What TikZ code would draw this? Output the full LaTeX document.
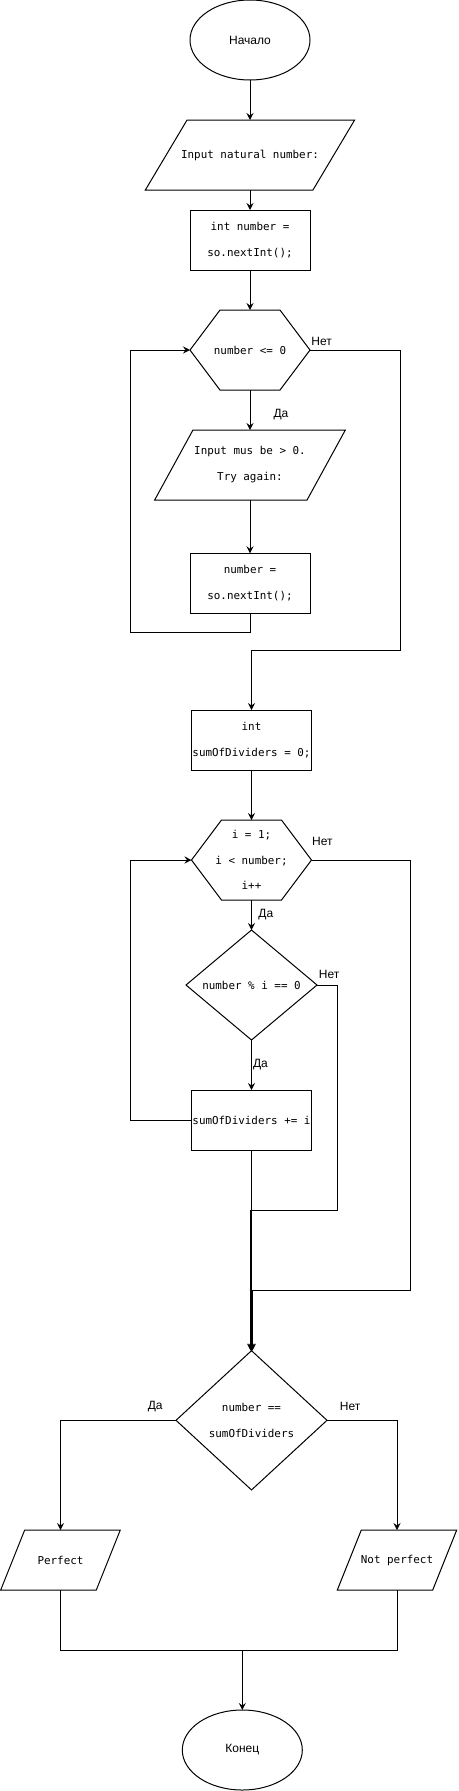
\documentclass[tikz,border=0pt]{standalone}
\usepackage{fontspec}
\setmainfont{Liberation Sans}
\newfontfamily\monofont{DejaVu Sans Mono}
\usetikzlibrary{shapes.geometric,arrows.meta,calc}

\tikzset{
  base/.style={draw=none, inner sep=0pt, outer sep=0pt, align=center,
    font=\monofont\fontsize{10.9}{26}\selectfont},
  term/.style={ellipse, draw, line width=1pt, minimum width=120pt, minimum height=80pt,
    inner sep=0pt, outer sep=0pt, font=\fontsize{12}{14}\selectfont},
  proc/.style={base, draw, line width=1pt, minimum width=120pt, minimum height=60pt},
  shapeline/.style={draw, line width=1pt, line join=miter},
  lbl/.style={font=\fontsize{12}{14}\selectfont, inner sep=0pt, text=black},
  arr/.style={line width=1pt, -{Stealth[length=7pt,width=7pt,inset=2.5pt]}},
  plain/.style={line width=1pt},
}
\newcommand\drawio[2]{\draw[shapeline] ([xshift=#2]#1.north west) -- (#1.north east) -- ([xshift=-#2]#1.south east) -- (#1.south west) -- cycle;}
\newcommand\drawhex[2]{\draw[shapeline] (#1.west) -- ([xshift=#2]#1.north west) -- ([xshift=-#2]#1.north east) -- (#1.east) -- ([xshift=-#2]#1.south east) -- ([xshift=#2]#1.south west) -- cycle;}
\newcommand\drawdec[1]{\draw[shapeline] (#1.north) -- (#1.east) -- (#1.south) -- (#1.west) -- cycle;}

\begin{document}
\begin{tikzpicture}[x=1pt,y=-1pt]
\path[fill=white,use as bounding box] (0,0) rectangle (458,1791);

% nodes
\node[term] (start) at (250,40) {Начало};
\node[base, minimum width=209.3pt, minimum height=70pt] (in1) at (250,155) {Input natural number:};
\drawio{in1}{41.7pt}
\node[proc] (r1) at (250,240) {int number =\\so.nextInt();};
\node[base, minimum width=120pt, minimum height=80pt] (h1) at (250,350) {number <= 0};
\drawhex{h1}{30pt}
\node[base, minimum width=190.7pt, minimum height=70pt] (in2) at (250,465) {Input mus be > 0.\\Try again:};
\drawio{in2}{38.3pt}
\node[proc] (r2) at (250,583.3) {number =\\so.nextInt();};

\node[proc] (r3) at (251.5,740) {int\\sumOfDividers = 0;};
\node[base, minimum width=120pt, minimum height=80pt, font=\monofont\fontsize{10.9}{25.5}\selectfont] (h2) at (251.5,860) {i = 1;\\i < number;\\i++};
\drawhex{h2}{30pt}
\node[base, minimum width=131pt, minimum height=110pt] (d1) at (251.5,985) {number \% i == 0};
\drawdec{d1}
\node[proc] (r4) at (251.5,1120) {sumOfDividers += i};
\node[base, minimum width=151pt, minimum height=139.3pt] (d2) at (251.5,1420.3) {number ==\\sumOfDividers};
\drawdec{d2}

\node[base, minimum width=119.6pt, minimum height=60pt] (p1) at (60.5,1560) {Perfect};
\drawio{p1}{24pt}
\node[base, minimum width=119.4pt, minimum height=60pt] (p2) at (397,1560) {Not perfect};
\drawio{p2}{24pt}
\node[term] (end) at (242.3,1750) {Конец};

% connectors
\draw[arr] (start.south) -- (in1.north);
\draw[arr] (in1.south) -- (r1.north);
\draw[arr] (r1.south) -- (h1.north);
\draw[arr] (h1.south) -- node[lbl, pos=0.625, xshift=31pt] {Да} (in2.north);
\draw[arr] (in2.south) -- (r2.north);
\draw[arr] (r2.south) |- (130.7,632.7) |- (h1.west);
\draw[arr] (h1.east) -- node[lbl, pos=0.13, yshift=8.5pt] {Нет} (400,350) |- (251.5,650) -- (r3.north);

\draw[arr] (r3.south) -- (h2.north);
\draw[arr] (h2.south) -- node[lbl, pos=0.5, xshift=14.3pt] {Да} (d1.north);
\draw[arr] (d1.south) -- node[lbl, pos=0.5, xshift=9pt] {Да} (r4.north);
\draw[arr] (r4.west) -| (130,860) -- (h2.west);
\draw[arr] (r4.south) -- (d2.north);
\draw[arr] (d1.east) -- node[lbl, pos=0.6, yshift=10.7pt] {Нет} (337.3,985) -- (337.3,1210) -- (250.5,1210) -- ([xshift=-1pt]d2.north);
\draw[arr] (h2.east) -- node[lbl, pos=0.11, yshift=18.3pt] {Нет} (410.7,860) -- (410.7,1290) -- (252.5,1290) -- ([xshift=1pt]d2.north);

\draw[arr] (d2.west) -| node[lbl, pos=0.09, yshift=13.6pt] {Да} (p1.north);
\draw[arr] (d2.east) -| node[lbl, pos=0.165, yshift=13.6pt] {Нет} (p2.north);

\coordinate (m) at (242.3,1650);
\draw[plain] (p1.south) |- (m);
\draw[plain] (p2.south) |- (m);
\draw[arr] (m) -- (end.north);
\end{tikzpicture}
\end{document}
